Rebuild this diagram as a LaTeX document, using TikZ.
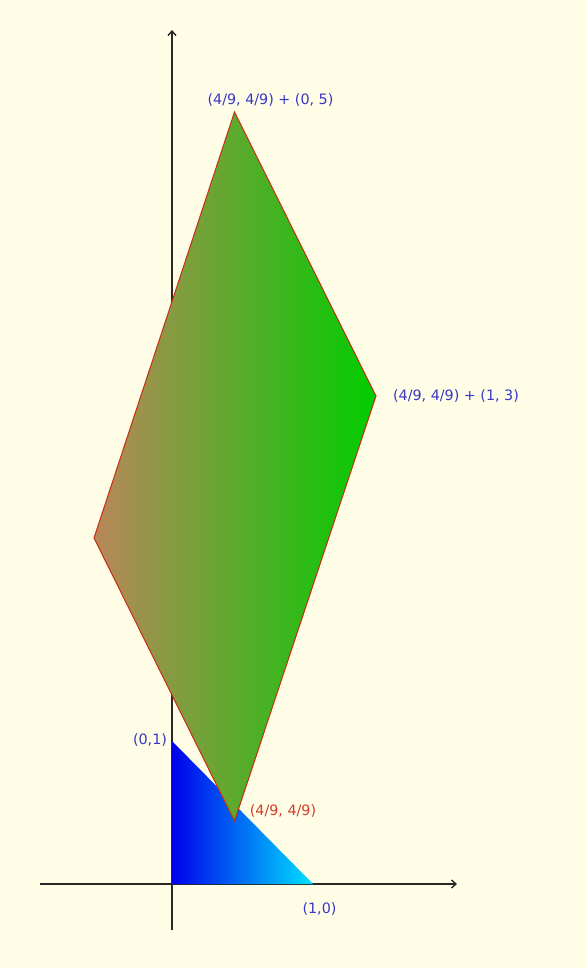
\documentclass[tikz,border=0pt]{standalone}
\usepackage{fontspec}
\setmainfont{DejaVu Sans}
\usetikzlibrary{arrows.meta}
\definecolor{bg}{RGB}{255,253,230}
\definecolor{axiscol}{RGB}{40,40,40}
\definecolor{lblblue}{RGB}{55,55,200}
\definecolor{lblred}{RGB}{215,60,40}
\definecolor{edgered}{RGB}{200,45,20}
\definecolor{parleft}{RGB}{185,135,90}
\definecolor{parright}{RGB}{0,205,0}
\definecolor{trileft}{RGB}{0,0,235}
\definecolor{triright}{RGB}{0,225,255}
\begin{document}
\begin{tikzpicture}[x=1pt,y=-1pt,
  axis/.style={draw=axiscol,line width=1.4pt,-{Straight Barb[length=4.5pt,width=8pt]}},
  lbl/.style={text=lblblue,font=\fontsize{14.3}{16}\selectfont,inner sep=0pt},
  lblr/.style={text=lblred,font=\fontsize{14.3}{16}\selectfont,inner sep=0pt}]
\fill[bg] (0,0) rectangle (587,968);
\useasboundingbox (0,0) rectangle (587,968);
% axes
\coordinate (xl) at (40,884);
\coordinate (xr) at (457,884);
\coordinate (yb) at (172,930);
\coordinate (yt) at (172,30);
\draw[axis] (xl) -- (xr);
\draw[axis] (yb) -- (yt);
% triangle
\coordinate (O) at (172,884);
\coordinate (A) at (313,884);
\coordinate (B) at (172,741);
\shade[left color=trileft,right color=triright] (O) -- (A) -- (B) -- cycle;
% parallelogram
\coordinate (P) at (234.5,821);
\coordinate (Q) at (376,396);
\coordinate (R) at (234.5,112);
\coordinate (S) at (94,538);
\shade[left color=parleft,right color=parright,draw=edgered,line width=1pt,line join=miter] (P) -- (Q) -- (R) -- (S) -- cycle;
% labels
\node[lbl] (lR) at (270.5,100) {(4/9, 4/9) + (0, 5)};
\node[lbl] (lQ) at (456,396) {(4/9, 4/9) + (1, 3)};
\node[lbl] (lB) at (150,740) {(0,1)};
\node[lblr] (lP) at (283,811) {(4/9, 4/9)};
\node[lbl] (lA) at (319.5,909) {(1,0)};
\end{tikzpicture}
\end{document}
